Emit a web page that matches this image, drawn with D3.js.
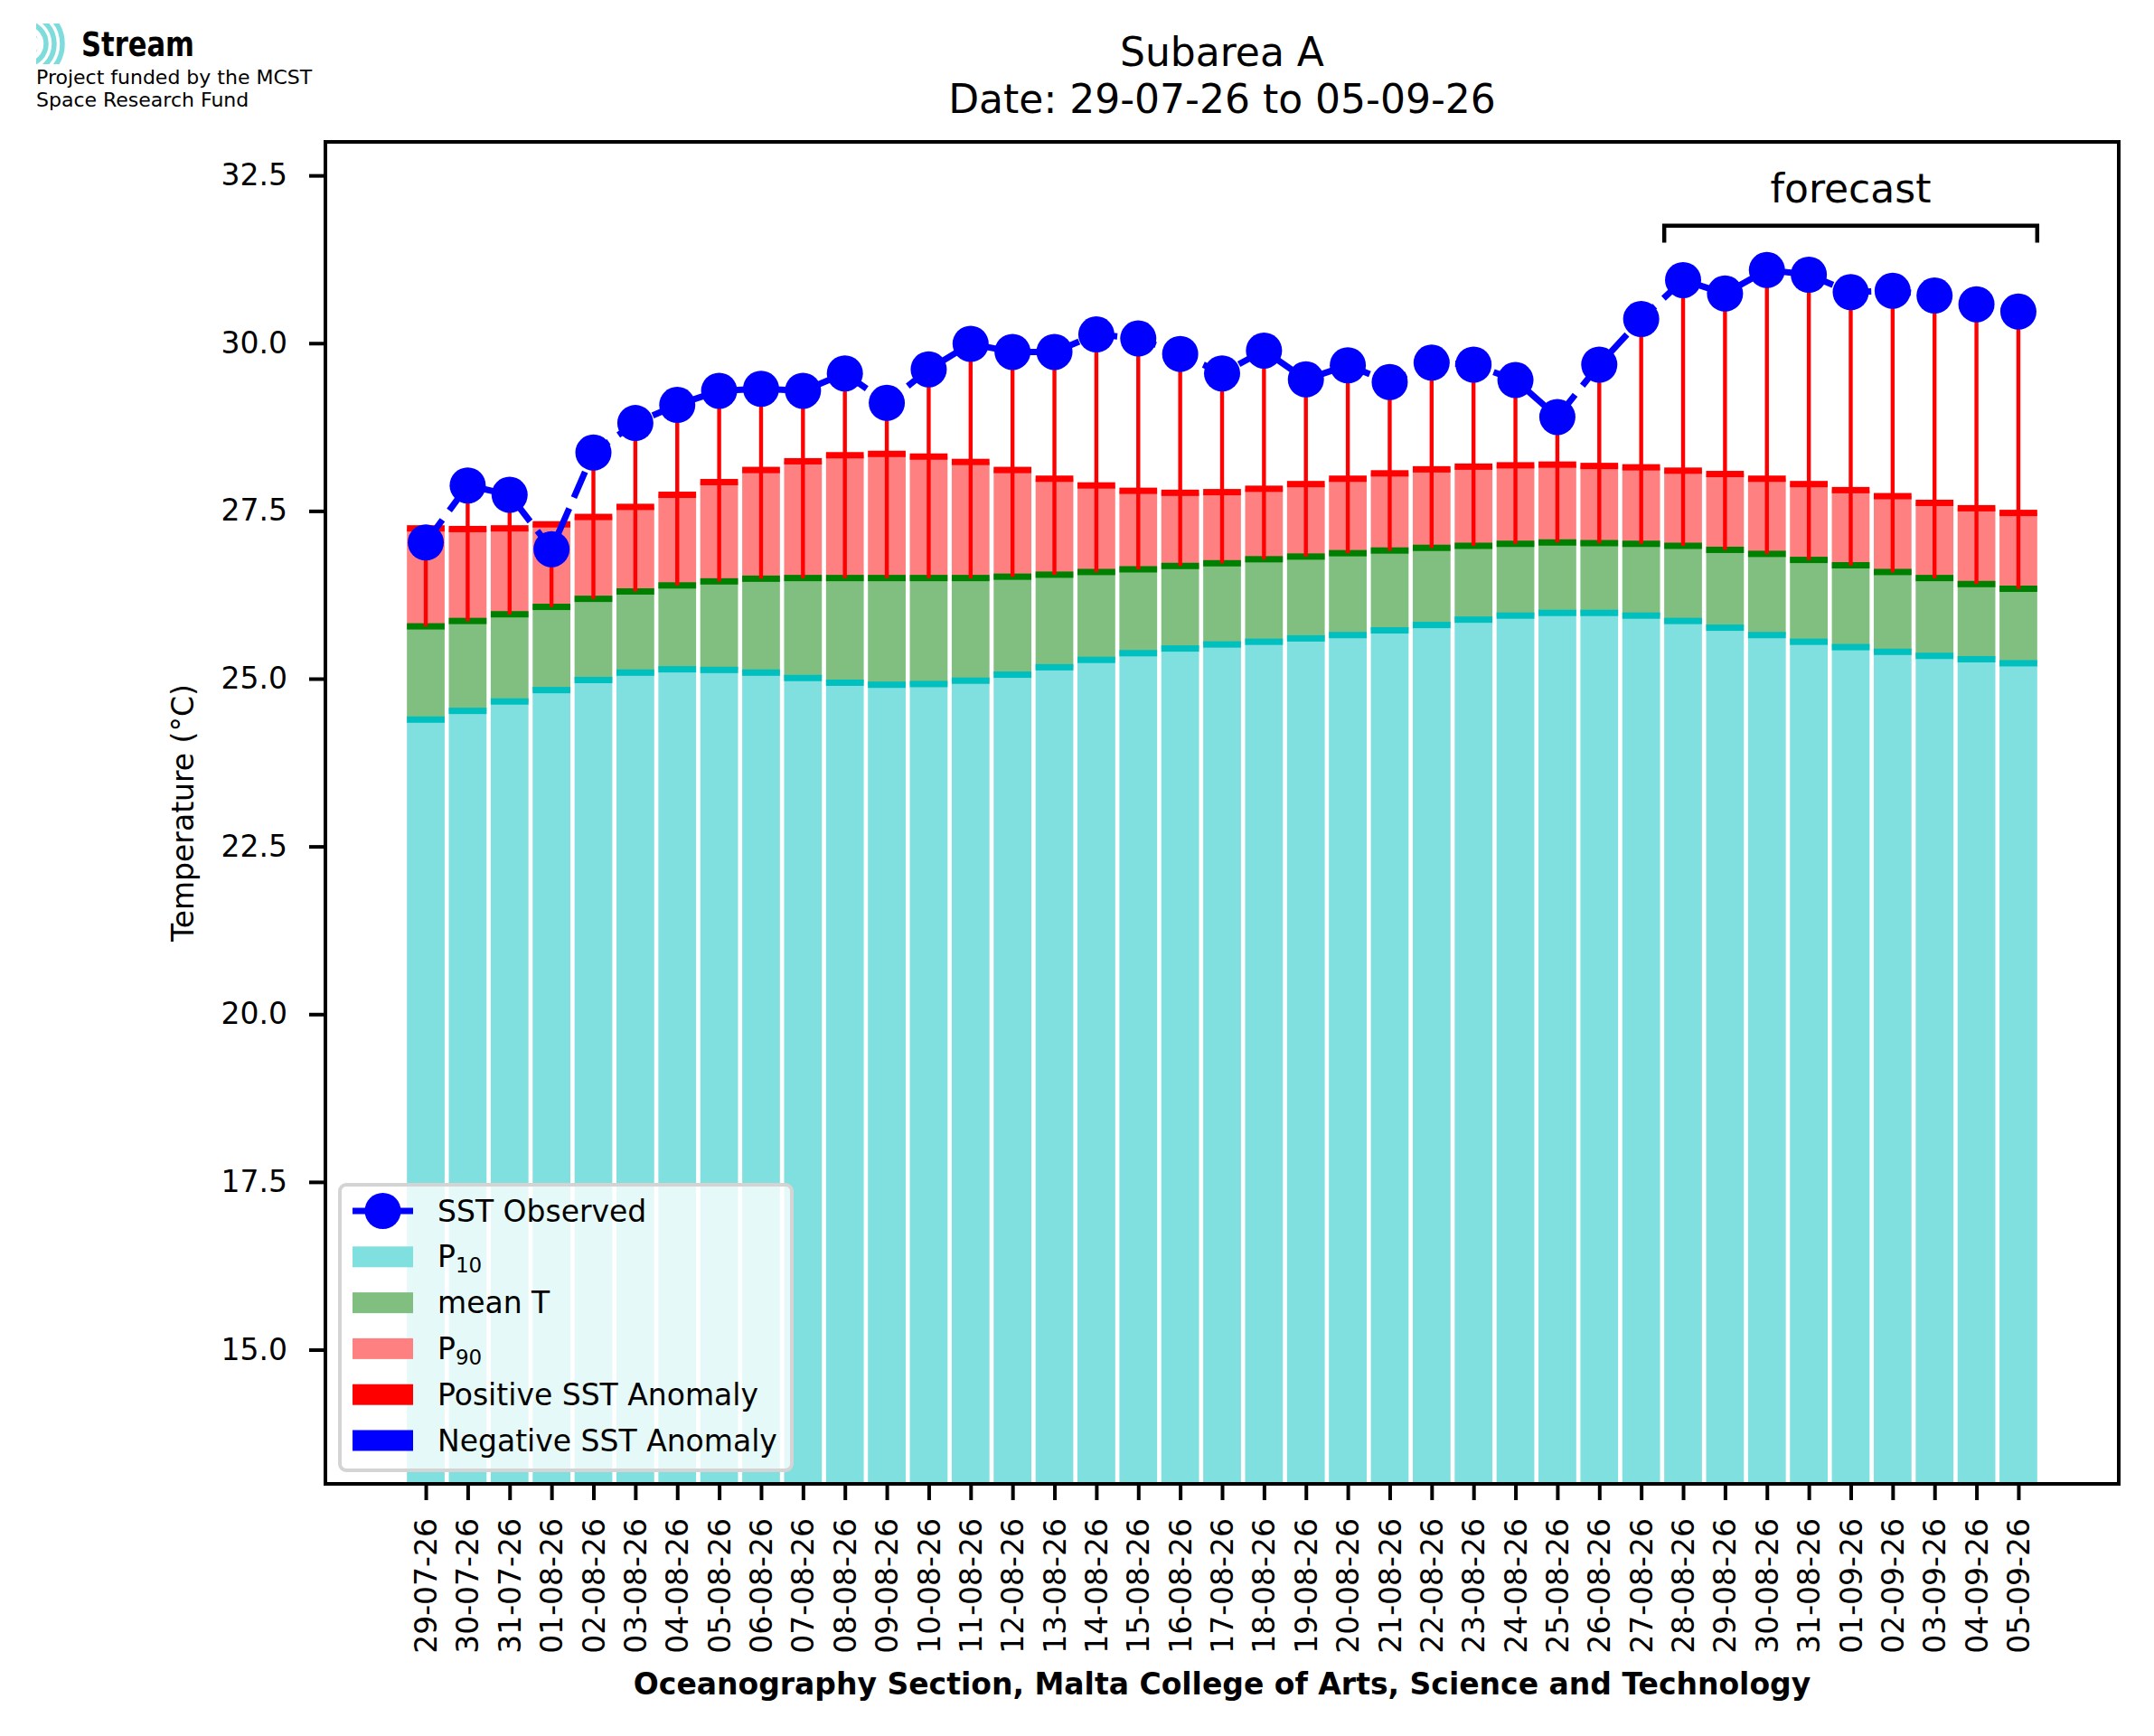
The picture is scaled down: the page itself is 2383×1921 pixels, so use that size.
<!DOCTYPE html>
<html>
<head>
<meta charset="utf-8">
<title>Subarea A</title>
<script src="https://cdn.jsdelivr.net/npm/d3@7"></script>
<style>
    body { margin: 0; background: #ffffff; }
    text { font-family: "DejaVu Sans", sans-serif; fill: #000000; }
</style>
</head>
<body>
<svg id="chart" width="2383" height="1921"></svg>
<script>
// Chart data
const dates = ["29-07-26", "30-07-26", "31-07-26", "01-08-26", "02-08-26", "03-08-26", "04-08-26",
               "05-08-26", "06-08-26", "07-08-26", "08-08-26", "09-08-26", "10-08-26", "11-08-26",
               "12-08-26", "13-08-26", "14-08-26", "15-08-26", "16-08-26", "17-08-26", "18-08-26",
               "19-08-26", "20-08-26", "21-08-26", "22-08-26", "23-08-26", "24-08-26", "25-08-26",
               "26-08-26", "27-08-26", "28-08-26", "29-08-26", "30-08-26", "31-08-26", "01-09-26",
               "02-09-26", "03-09-26", "04-09-26", "05-09-26"];
const p10 = [24.39, 24.52, 24.66, 24.83, 24.98, 25.09, 25.14, 25.13, 25.09, 25.01,
             24.94, 24.91, 24.92, 24.97, 25.06, 25.17, 25.28, 25.38, 25.45, 25.51,
             25.55, 25.60, 25.65, 25.72, 25.80, 25.88, 25.94, 25.98, 25.98, 25.94,
             25.86, 25.76, 25.65, 25.55, 25.47, 25.40, 25.34, 25.29, 25.23];
const meanT = [25.78, 25.86, 25.96, 26.07, 26.19, 26.30, 26.39, 26.45, 26.49, 26.50,
               26.50, 26.50, 26.50, 26.50, 26.52, 26.55, 26.59, 26.63, 26.68, 26.72,
               26.78, 26.82, 26.87, 26.91, 26.95, 26.98, 27.01, 27.03, 27.02, 27.01,
               26.98, 26.92, 26.86, 26.77, 26.69, 26.59, 26.50, 26.41, 26.34];
const p90 = [27.24, 27.23, 27.24, 27.30, 27.41, 27.56, 27.74, 27.93, 28.11, 28.24,
             28.33, 28.35, 28.31, 28.23, 28.11, 27.98, 27.88, 27.80, 27.77, 27.78,
             27.83, 27.90, 27.98, 28.06, 28.12, 28.16, 28.18, 28.19, 28.17, 28.15,
             28.10, 28.05, 27.98, 27.90, 27.81, 27.72, 27.62, 27.54, 27.47];
const sstObserved = [27.03, 27.88, 27.74, 26.93, 28.37, 28.81, 29.08, 29.29, 29.32, 29.29,
                     29.55, 29.11, 29.61, 29.99, 29.87, 29.87, 30.13, 30.07, 29.84, 29.55,
                     29.89, 29.46, 29.67, 29.42, 29.71, 29.68, 29.45, 28.90, 29.68, 30.36,
                     30.94, 30.74, 31.09, 31.02, 30.76, 30.78, 30.71, 30.58, 30.47];
const yTickValues = [15.0, 17.5, 20.0, 22.5, 25.0, 27.5, 30.0, 32.5];
const forecastFrom = "28-08-26";
const legendLabels = ["SST Observed", "P|10", "mean T", "P|90", "Positive SST Anomaly", "Negative SST Anomaly"];

// Layout
const plotLeft = 360, plotRight = 2344, plotTop = 157, plotBottom = 1642,
      barWidth = 0.9,
      stripPx = 7,
      fontSize = 33;

// Colours (matplotlib c / g / r at alpha 0.5 and their solid tops)
const colP10 = "#80dfdf", colP10Top = "#00bfbf",
      colMean = "#80bf80", colMeanTop = "#008000",
      colP90 = "#ff8080", colP90Top = "#ff0000",
      colPos = "#ff0000", colNeg = "#0000ff";

var svg = d3.select("#chart");

var x = d3.scaleLinear()
    .domain([-2.395, dates.length - 1 + 2.395])
    .range([plotLeft, plotRight]);
var y = d3.scaleLinear()
    .domain([13, 33])
    .range([plotBottom, plotTop]);

var idx = d3.range(dates.length);

/**
 * Draws one layer of bars between two value arrays (null = axis bottom)
 */
function drawBars(cls, lower, upper, fill) {
    svg.append("g").attr("class", cls)
        .selectAll("rect")
        .data(idx)
        .enter().append("rect")
        .attr("x", i => x(i - barWidth / 2))
        .attr("width", i => x(i + barWidth / 2) - x(i - barWidth / 2))
        .attr("y", i => y(upper[i]))
        .attr("height", i => (lower ? y(lower[i]) : y.range()[0]) - y(upper[i]))
        .attr("fill", fill);
}

/**
 * Draws the thick top strip of a bar layer
 */
function drawStrips(cls, values, fill) {
    svg.append("g").attr("class", cls)
        .selectAll("rect")
        .data(idx)
        .enter().append("rect")
        .attr("x", i => x(i - barWidth / 2))
        .attr("width", i => x(i + barWidth / 2) - x(i - barWidth / 2))
        .attr("y", i => y(values[i]) - stripPx / 2)
        .attr("height", stripPx)
        .attr("fill", fill);
}

drawBars("bars-p10", null, p10, colP10);
drawBars("bars-mean", p10, meanT, colMean);
drawBars("bars-p90", meanT, p90, colP90);
drawStrips("top-p10", p10, colP10Top);
drawStrips("top-mean", meanT, colMeanTop);
drawStrips("top-p90", p90, colP90Top);

// Anomaly lines (mean -> observed)
svg.append("g").attr("class", "anomaly")
    .selectAll("line")
    .data(idx)
    .enter().append("line")
    .attr("x1", i => x(i)).attr("x2", i => x(i))
    .attr("y1", i => y(meanT[i]))
    .attr("y2", i => y(sstObserved[i]))
    .attr("stroke", i => sstObserved[i] >= meanT[i] ? colPos : colNeg)
    .attr("stroke-width", 4.4);

// Observed SST line + markers
var sstLine = d3.line()
    .x(i => x(i))
    .y(i => y(sstObserved[i]));
svg.append("path")
    .datum(idx)
    .attr("d", sstLine)
    .attr("fill", "none")
    .attr("stroke", colNeg)
    .attr("stroke-width", 7)
    .attr("stroke-dasharray", "31,13");
svg.append("g").attr("class", "sst-points")
    .selectAll("circle")
    .data(idx)
    .enter().append("circle")
    .attr("cx", i => x(i))
    .attr("cy", i => y(sstObserved[i]))
    .attr("r", 20)
    .attr("fill", colNeg);

// Forecast bracket
var fStart = dates.indexOf(forecastFrom),
    fEnd = dates.length - 1;
var bx0 = x(fStart - barWidth / 2), bx1 = x(fEnd + barWidth / 2);
svg.append("path")
    .attr("d", "M" + bx0 + "," + y(31.5) + "V" + y(31.75) + "H" + bx1 + "V" + y(31.5))
    .attr("fill", "none")
    .attr("stroke", "#000")
    .attr("stroke-width", 4.5);
svg.append("text")
    .attr("x", (bx0 + bx1) / 2)
    .attr("y", y(32.1))
    .attr("text-anchor", "middle")
    .style("font-size", "44px")
    .text("forecast");

// Axes
var xAxis = svg.append("g")
    .attr("transform", "translate(0," + plotBottom + ")")
    .call(d3.axisBottom(x).tickValues(idx).tickSize(18).tickFormat(i => dates[i]));
xAxis.selectAll("text")
    .attr("transform", "rotate(-90)")
    .attr("text-anchor", "end")
    .attr("x", -38)
    .attr("y", 0)
    .attr("dy", "0.35em");

var yAxis = svg.append("g")
    .attr("transform", "translate(" + plotLeft + ",0)")
    .call(d3.axisLeft(y).tickValues(yTickValues).tickSize(18).tickPadding(24).tickFormat(d3.format(".1f")));

[xAxis, yAxis].forEach(function (ax) {
    ax.select(".domain").remove();
    ax.attr("font-family", null).attr("font-size", null);
    ax.selectAll(".tick line").attr("stroke", "#000").attr("stroke-width", 4);
    ax.selectAll("text").style("font-size", fontSize + "px").attr("fill", "#000");
});

svg.append("rect")
    .attr("x", plotLeft).attr("y", plotTop)
    .attr("width", plotRight - plotLeft).attr("height", plotBottom - plotTop)
    .attr("fill", "none")
    .attr("stroke", "#000")
    .attr("stroke-width", 4);

// Legend
var legend = svg.append("g").attr("class", "legend");
legend.append("rect")
    .attr("x", 376).attr("y", 1311)
    .attr("width", 500).attr("height", 316)
    .attr("rx", 7)
    .attr("fill", "#ffffff").attr("fill-opacity", 0.8)
    .attr("stroke", "#d4d4d4").attr("stroke-width", 4);

var legendSwatches = [null, colP10, colMean, colP90, colPos, colNeg];
legendLabels.forEach(function (label, k) {
    var cy = 1340 + k * 50.8;
    if (k === 0) {
        legend.append("line")
            .attr("x1", 390).attr("x2", 457).attr("y1", cy).attr("y2", cy)
            .attr("stroke", colNeg).attr("stroke-width", 7)
            .attr("stroke-dasharray", "31,13");
        legend.append("circle")
            .attr("cx", 423.5).attr("cy", cy).attr("r", 20).attr("fill", colNeg);
    } else {
        legend.append("rect")
            .attr("x", 390).attr("y", cy - 11.5)
            .attr("width", 67).attr("height", 23)
            .attr("fill", legendSwatches[k]);
    }
    var t = legend.append("text")
        .attr("x", 484).attr("y", cy)
        .attr("dy", "0.35em")
        .style("font-size", fontSize + "px");
    var parts = label.split("|");
    t.append("tspan").text(parts[0]);
    if (parts.length > 1) {
        t.append("tspan")
            .attr("dy", "0.25em")
            .style("font-size", "23px")
            .text(parts[1]);
    }
});

// Titles
var midX = (plotLeft + plotRight) / 2;
var title = svg.append("text")
    .attr("x", midX)
    .attr("text-anchor", "middle")
    .style("font-size", "44px");
title.append("tspan").attr("x", midX).attr("y", 73).text("Subarea A");
title.append("tspan").attr("x", midX).attr("y", 125)
    .text("Date: " + dates[0] + " to " + dates[dates.length - 1]);

svg.append("text")
    .attr("transform", "translate(214," + (plotTop + plotBottom) / 2 + ") rotate(-90)")
    .attr("text-anchor", "middle")
    .style("font-size", fontSize + "px")
    .text("Temperature (°C)");

svg.append("text")
    .attr("x", midX)
    .attr("y", 1875)
    .attr("text-anchor", "middle")
    .style("font-size", fontSize + "px")
    .style("font-weight", "bold")
    .text("Oceanography Section, Malta College of Arts, Science and Technology");

// Logo block (top left)
var logo = svg.append("g").attr("class", "logo");
logo.append("clipPath").attr("id", "logo-clip")
    .append("rect").attr("x", 40).attr("y", 26).attr("width", 45).attr("height", 45);
var icon = logo.append("g").attr("clip-path", "url(#logo-clip)");
icon.append("circle").attr("cx", 28).attr("cy", 48.5).attr("r", 15).attr("fill", "#7fdcdc");
[23, 32, 41].forEach(function (r) {
    icon.append("circle").attr("cx", 28).attr("cy", 48.5).attr("r", r)
        .attr("fill", "none").attr("stroke", "#7fdcdc").attr("stroke-width", 5.5);
});
icon.append("path").attr("d", "M40,41L47,48.5L40,56Z").attr("fill", "#ffffff");
logo.append("text")
    .attr("x", 90).attr("y", 62)
    .attr("textLength", 125).attr("lengthAdjust", "spacingAndGlyphs")
    .style("font-size", "38px").style("font-weight", "bold")
    .text("Stream");
logo.append("text").attr("x", 40).attr("y", 93).style("font-size", "22px")
    .text("Project funded by the MCST");
logo.append("text").attr("x", 40).attr("y", 118).style("font-size", "22px")
    .text("Space Research Fund");
</script>
</body>
</html>
